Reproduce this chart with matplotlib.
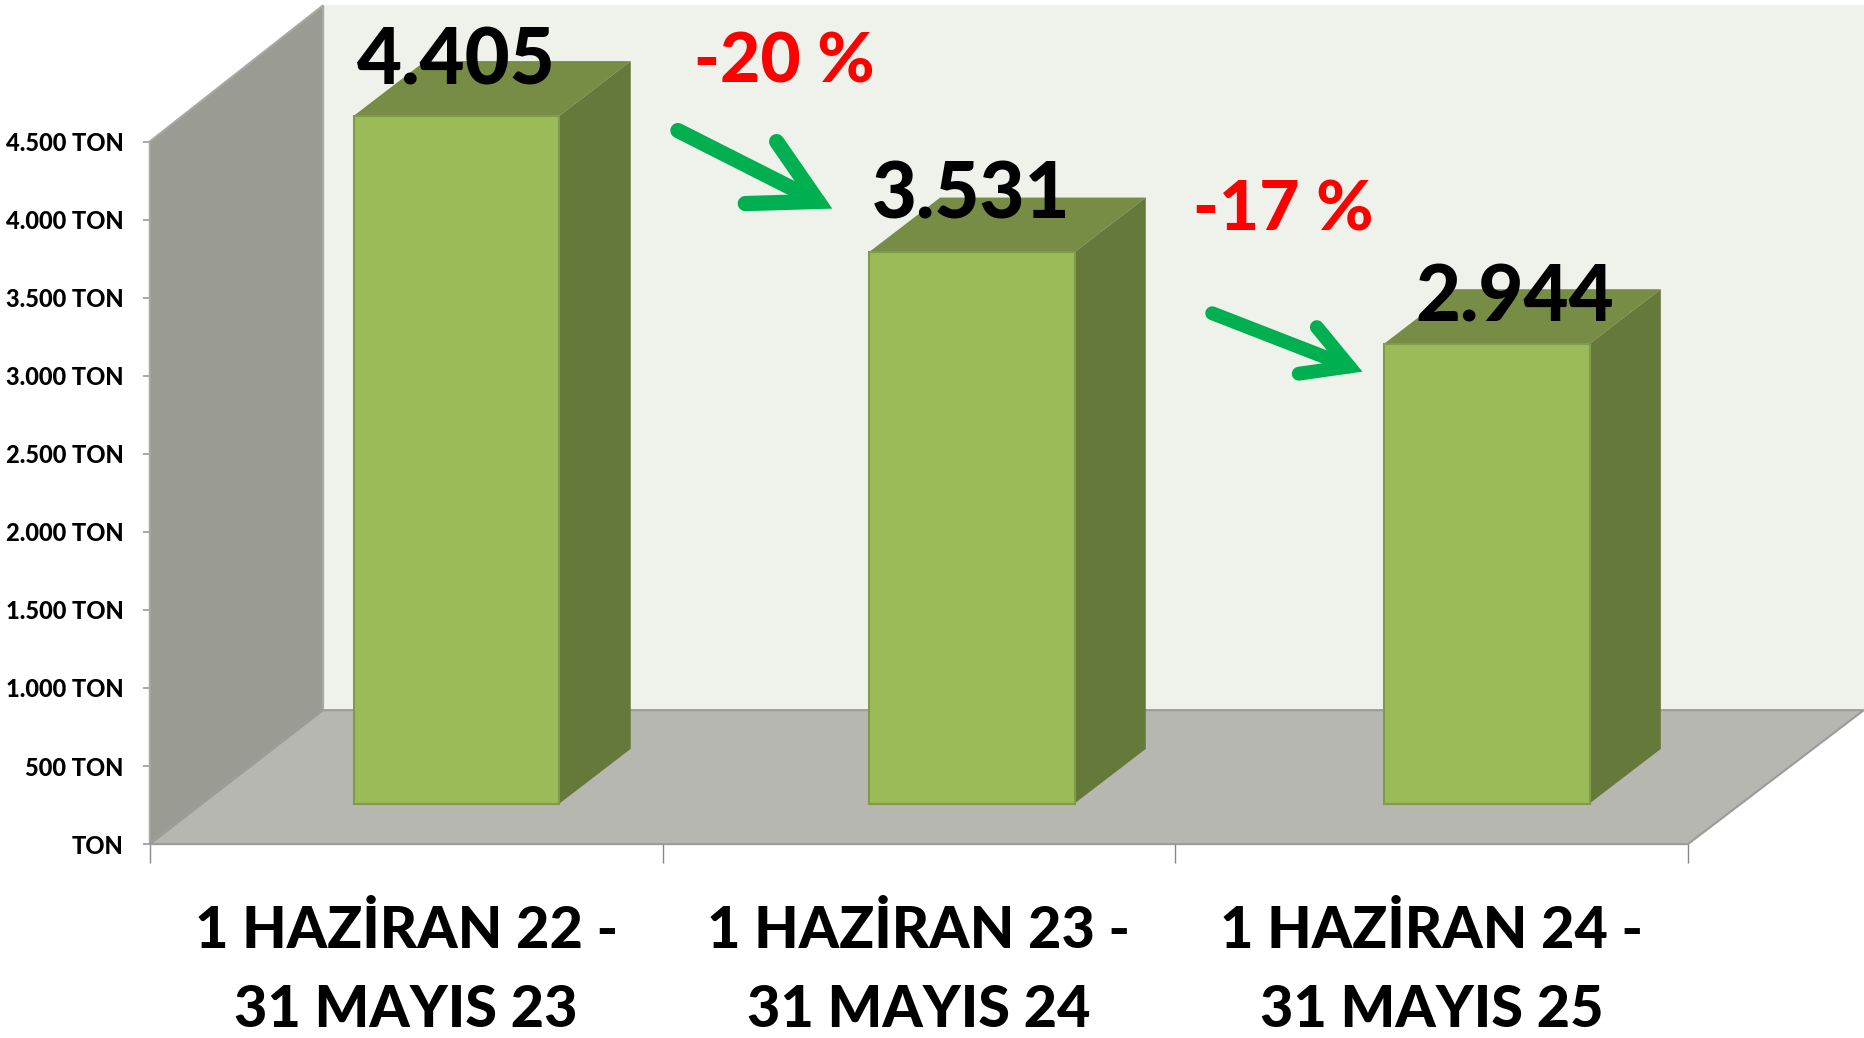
import matplotlib
matplotlib.use('Agg')
import matplotlib.pyplot as plt

plt.rcParams['font.family'] = ['Lato', 'DejaVu Sans']
plt.rcParams['font.weight'] = 'bold'

# data
periods = ['1 HAZİRAN 22 -\n31 MAYIS 23', '1 HAZİRAN 23 -\n31 MAYIS 24', '1 HAZİRAN 24 -\n31 MAYIS 25']
values = [4405, 3531, 2944]
value_labels = ['4.405', '3.531', '2.944']
y_ticks = [0, 500, 1000, 1500, 2000, 2500, 3000, 3500, 4000, 4500]
y_labels = ['TON', '500 TON', '1.000 TON', '1.500 TON', '2.000 TON', '2.500 TON',
            '3.000 TON', '3.500 TON', '4.000 TON', '4.500 TON']
changes = ['-20 %', '-17 %']

# fake 3d offsets, in data units
wall_dx, wall_dy = 0.338, 858
bar_dx, bar_dy = 0.139, 350
shift_x, shift_y = 0.0985, 260
bar_w = 0.401
bar_pitch = 1.0045
ymax = 4500

fig = plt.figure(figsize=(18.64, 10.38), dpi=100)
ax = fig.add_axes([149.8/1864, 1-844.1/1038, (1688-149.8)/1864, (844.1-141.5)/1038])
ax.set_xlim(0, 3)
ax.set_ylim(0, ymax)

# walls and floor
ax.fill([wall_dx, 3+wall_dx+0.01, 3+wall_dx+0.01, wall_dx], [wall_dy, wall_dy, ymax+wall_dy+14, ymax+wall_dy+14],
        color='#eff2eb', lw=0, clip_on=False, zorder=1)
ax.fill([0, wall_dx, wall_dx, 0], [0, wall_dy, ymax+wall_dy+14, ymax],
        facecolor='#9a9c94', edgecolor='#a8a9a4', lw=1.5, clip_on=False, zorder=2)
ax.fill([0, 3, 3+wall_dx+0.005, wall_dx], [0, 0, wall_dy, wall_dy],
        facecolor='#b5b7b0', edgecolor='#9b9c98', lw=1.5, clip_on=False, zorder=2)

# bars
for i, v in enumerate(values):
    xc = i*bar_pitch + 0.5 + shift_x
    x0 = xc - bar_w/2
    x1 = x0 + bar_w
    y0 = shift_y
    y1 = shift_y + v
    ax.fill([x0, x1, x1+bar_dx, x0+bar_dx], [y1, y1, y1+bar_dy, y1+bar_dy],
            color='#778c44', lw=0, clip_on=False, zorder=3)
    ax.fill([x1, x1+bar_dx, x1+bar_dx, x1], [y0, y0+bar_dy, y1+bar_dy, y1],
            color='#65793a', lw=0, clip_on=False, zorder=3)
    ax.bar(xc, v, width=bar_w, bottom=shift_y, color='#9bbb59',
           edgecolor='#809c4a', linewidth=1.5, clip_on=False, zorder=4)

# value labels
label_dx = [0, -0.002, 0.055]
label_dy = [345, 360, 290]
for i, v in enumerate(values):
    ax.text(i*bar_pitch + 0.5 + shift_x + label_dx[i], v + shift_y + label_dy[i], value_labels[i],
            fontsize=56, weight='black', color='black', ha='center', va='center', zorder=6, clip_on=False)

# change labels
ax.text(1.238, 5005, changes[0], fontsize=50, weight='black', color='#ff0000', ha='center', va='center', zorder=6)
ax.text(2.21, 4055, changes[1], fontsize=50, weight='black', color='#ff0000', ha='center', va='center', zorder=6)

# arrows
ax.annotate('', xy=(1.331, 4070), xytext=(1.03, 4570), zorder=6,
            arrowprops=dict(arrowstyle='->,head_length=46,head_width=25', mutation_scale=1,
                            color='#00b050', lw=11, shrinkA=0, shrinkB=0, joinstyle='miter'))
ax.annotate('', xy=(2.365, 3026), xytext=(2.072, 3400), zorder=6,
            arrowprops=dict(arrowstyle='->,head_length=32,head_width=18', mutation_scale=1,
                            color='#00b050', lw=10, shrinkA=0, shrinkB=0, joinstyle='miter'))

# axes
for s in ax.spines.values():
    s.set_visible(False)
ax.patch.set_visible(False)
ax.set_yticks(y_ticks)
ax.set_yticklabels(y_labels, fontsize=17, weight='black')
ax.tick_params(axis='y', length=5, width=1.2, color='#999999', pad=14)
ax.set_xticks([0, 1, 2, 3])
ax.set_xticklabels([])
ax.tick_params(axis='x', which='major', length=14, width=1, color='#888888')
ax.set_xticks([0.5, 1.5, 2.5], minor=True)
ax.set_xticklabels(periods, minor=True, fontsize=41.5, weight='black', linespacing=1.6)
ax.tick_params(axis='x', which='minor', length=0, pad=44)

fig.savefig('out.png', dpi=100)
